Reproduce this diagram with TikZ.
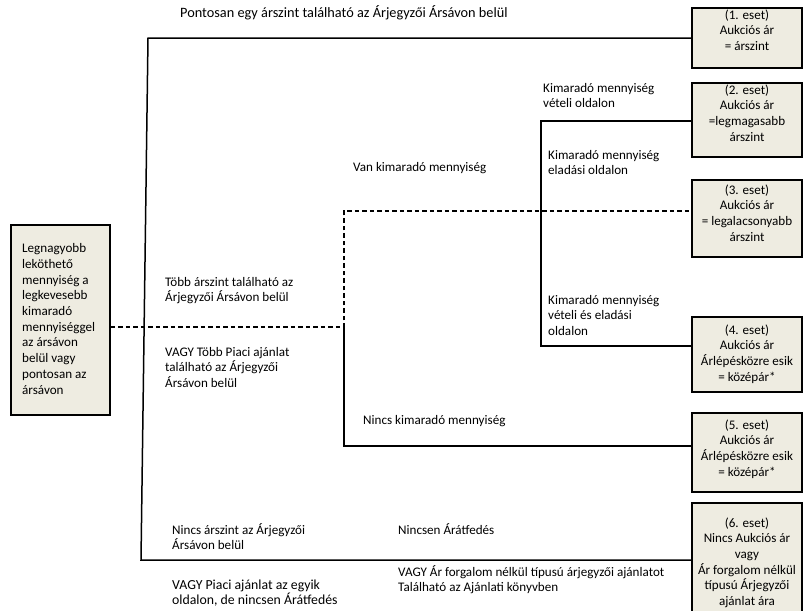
\documentclass[tikz,border=0pt]{standalone}
\usepackage{fontspec}
\setmainfont{Carlito}
\definecolor{boxfill}{HTML}{EEECE1}
\begin{document}
\begin{tikzpicture}[x=1pt,y=-1pt,
  font=\fontsize{13.1}{15.7}\selectfont,
  casebox/.style={draw=black,line width=1.5pt,fill=boxfill,inner sep=0pt,minimum width=110pt},
  lbl/.style={anchor=base west,align=left,inner sep=0pt},
  biglbl/.style={lbl,font=\fontsize{13.8}{15.7}\selectfont},
  clbl/.style={anchor=base,align=center,inner sep=0pt},
  conn/.style={line width=1.5pt},
  dconn/.style={line width=1.5pt,dash pattern=on 4.5pt off 3pt}]
\useasboundingbox (0,0) rectangle (804,611);
% boxes
\node[casebox,minimum width=99pt,minimum height=190pt] (lb) at (60.5,320) {};
\node[lbl] (lbt) at (22,394) {Legnagyobb\\leköthető\\mennyiség a\\legkevesebb\\kimaradó\\mennyiséggel\\az ársávon\\belül vagy\\pontosan az\\ársávon};
\node[casebox,minimum height=60pt] (b1) at (747,38) {};
\node[casebox,minimum height=74pt] (b2) at (747,120) {};
\node[casebox,minimum height=77pt] (b3) at (747,218.5) {};
\node[casebox,minimum height=75pt] (b4) at (747,354.5) {};
\node[casebox,minimum height=79pt] (b5) at (747,452.5) {};
\node[casebox,minimum height=112pt] (b6) at (747,559) {};
\node[clbl] (t1) at (747,50.4) {(1. eset)\\Aukciós ár\\= árszint};
\node[clbl] (t2) at (747,141.1) {(2. eset)\\Aukciós ár\\=legmagasabb\\árszint};
\node[clbl] (t3) at (747,241.1) {(3. eset)\\Aukciós ár\\= legalacsonyabb\\árszint};
\node[clbl] (t4) at (747,381.1) {(4. eset)\\Aukciós ár\\Árlépésközre esik\\= középár*};
\node[clbl] (t5) at (747,476.1) {(5. eset)\\Aukciós ár\\Árlépésközre esik\\= középár*};
\node[clbl] (t6) at (747,605.5) {(6. eset)\\Nincs Aukciós ár\\vagy\\Ár forgalom nélkül\\típusú Árjegyzői\\ajánlat ára};
% junction coordinates
\coordinate (mtop) at (148,38);
\coordinate (mbot) at (141,560);
\coordinate (j1) at (344,327);
\coordinate (j2) at (344,211);
\coordinate (j3) at (344,446);
\coordinate (k1) at (541,121);
\coordinate (k2) at (541,346);
% connectors
\draw[conn] (b1.west) -- (mtop) -- (mbot) -- (mbot -| b6.west);
\draw[dconn] (lb.east |- j1) -- (j1) -- (j2) -- (j2 -| b3.west);
\draw[conn] (j1) -- (j3) -- (j3 -| b5.west);
\draw[conn] (k1 -| b2.west) -- (k1) -- (k2) -- (k2 -| b4.west);
% labels
\node[lbl,font=\fontsize{14.3}{15.7}\selectfont] (l1) at (180,17.5) {Pontosan egy árszint található az Árjegyzői Ársávon belül};
\node[lbl] (l2) at (543,107.7) {Kimaradó mennyiség\\vételi oldalon};
\node[lbl] (l3) at (353,171) {Van kimaradó mennyiség};
\node[lbl] (l4) at (548,174.7) {Kimaradó mennyiség\\eladási oldalon};
\node[lbl] (l5) at (548,335.4) {Kimaradó mennyiség\\vételi és eladási\\oldalon};
\node[lbl] (l6) at (165,301.7) {Több árszint található az\\Árjegyzői Ársávon belül};
\node[lbl] (l7) at (165,387.4) {VAGY Több Piaci ajánlat\\található az Árjegyzői\\Ársávon belül};
\node[lbl] (l8) at (363,424) {Nincs kimaradó mennyiség};
\node[lbl] (l9) at (172,549.7) {Nincs árszint az Árjegyzői\\Ársávon belül};
\node[lbl] (l10) at (398,534) {Nincsen Árátfedés};
\node[biglbl] (l11) at (172,604.7) {VAGY Piaci ajánlat az egyik\\oldalon, de nincsen Árátfedés};
\node[lbl] (l12) at (398,591.7) {VAGY Ár forgalom nélkül típusú árjegyzői ajánlatot\\Található az Ajánlati könyvben};
\end{tikzpicture}
\end{document}
